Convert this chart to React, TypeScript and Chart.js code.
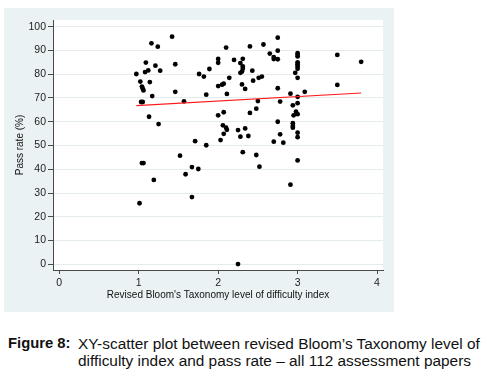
import React, { useEffect, useRef } from "react";
import { Chart, registerables } from "chart.js";
Chart.register(...registerables);

const xTicks = [0, 1, 2, 3, 4];
const yTicks = [0, 10, 20, 30, 40, 50, 60, 70, 80, 90, 100];

const bloomLevel = [
  0.97, 1.16, 1.24, 1.42, 1.09, 1.21, 1.08, 1.12, 1.27, 1.46,
  1.02, 1.14, 1.04, 1.05, 1.06, 1.17, 1.46, 1.03, 1.05, 1.57,
  1.13, 1.25, 1.52, 1.04, 1.06, 1.19, 1.01, 1.67, 1.59, 1.75,
  1.67, 1.71, 1.85, 1.76, 1.82, 1.89, 1.85, 2.0, 2.0, 2.1,
  2.2, 2.14, 2.0, 2.05, 2.07, 2.11, 2.0, 2.07, 2.06, 2.1,
  2.11, 2.07, 2.03, 2.25, 2.34, 2.28, 2.38, 2.31, 2.48, 2.52,
  2.25, 2.31, 2.28, 2.31, 2.31, 2.28, 2.3, 2.43, 2.51, 2.55,
  2.44, 2.3, 2.34, 2.4, 2.57, 2.65, 2.7, 2.7, 2.75, 2.75,
  2.75, 2.75, 2.78, 2.5, 2.48, 2.4, 2.75, 2.78, 2.7, 2.82,
  2.91, 3.09, 2.94, 2.95, 2.94, 2.94, 2.94, 3.0, 3.0, 2.98,
  3.0, 3.0, 3.0, 3.0, 2.91, 3.0, 3.0, 3.0, 3.0, 3.0,
  3.0, 3.0, 3.0, 2.97, 3.5, 3.5, 3.8,
];

const passRate = [
  80.1, 93.0, 91.6, 95.8, 84.9, 83.6, 80.9, 81.6, 81.5, 84.2,
  76.9, 76.7, 74.8, 74.0, 73.2, 70.8, 72.6, 68.3, 68.3, 68.6,
  62.1, 59.0, 45.7, 42.6, 42.6, 35.5, 25.7, 40.9, 37.9, 40.1,
  28.3, 51.8, 50.1, 80.1, 79.0, 82.2, 71.4, 86.4, 84.8, 91.2,
  86.0, 78.5, 75.0, 75.6, 76.0, 71.7, 62.7, 64.0, 58.5, 57.5,
  56.6, 54.9, 52.3, 56.5, 57.2, 53.7, 54.0, 47.2, 46.0, 41.1,
  0.1, 86.5, 84.7, 83.3, 82.3, 80.6, 81.1, 81.5, 78.5, 79.0,
  77.3, 75.7, 73.8, 91.7, 92.5, 88.7, 86.4, 87.2, 86.3, 89.9,
  95.4, 74.1, 68.5, 68.7, 65.5, 63.7, 60.0, 54.7, 51.6, 51.2,
  71.8, 72.6, 66.9, 62.7, 59.4, 58.2, 57.5, 70.5, 67.8, 64.2,
  63.2, 55.4, 53.5, 43.7, 33.5, 88.9, 88.2, 87.5, 85.0, 84.2,
  83.3, 82.3, 78.5, 80.6, 88.1, 75.5, 85.2,
];

const fitX = [0.97, 3.8];
const fitY = [66.8, 72.1];

const xTitle = "Revised Bloom's Taxonomy level of difficulty index";
const yTitle = "Pass rate (%)";
const captionLabel = "Figure 8:";
const captionLines = [
  "XY-scatter plot between revised Bloom\u2019s Taxonomy level of",
  "difficulty index and pass rate \u2013 all 112 assessment papers",
];

const PANEL = "#eaf2f3";
const AXIS = "#4a4a4a";
const FONT = "'Liberation Sans', Arial, sans-serif";

export default function App() {
  const ref = useRef<HTMLCanvasElement | null>(null);

  useEffect(() => {
    const canvas = ref.current;
    if (!canvas) return;
    const bgPlugin = {
      id: "bg",
      beforeDraw(chart: any) {
        const { ctx, chartArea } = chart;
        ctx.save();
        ctx.fillStyle = PANEL;
        ctx.fillRect(0, 0, chart.width, chart.height);
        ctx.fillStyle = "#ffffff";
        ctx.fillRect(
          chartArea.left,
          chartArea.top,
          chartArea.right - chartArea.left,
          chartArea.bottom - chartArea.top
        );
        ctx.restore();
      },
    };
    const chart = new Chart(canvas, {
      type: "scatter",
      data: {
        datasets: [
          {
            type: "line",
            data: fitX.map((x, i) => ({ x, y: fitY[i] })),
            borderColor: "#ff1a1a",
            borderWidth: 1.2,
            pointRadius: 0,
            fill: false,
            order: 0,
          } as any,
          {
            data: bloomLevel.map((x, i) => ({ x, y: passRate[i] })),
            backgroundColor: "#000000",
            borderWidth: 0,
            pointRadius: 2.4,
            order: 1,
          },
        ],
      },
      options: {
        responsive: false,
        animation: false,
        layout: { padding: { left: 0, right: 11, top: 12, bottom: 11 } },
        plugins: { legend: { display: false }, tooltip: { enabled: false } },
        scales: {
          x: {
            type: "linear",
            min: -0.079,
            max: 4.075,
            afterBuildTicks: (s: any) => {
              s.ticks = xTicks.map((v) => ({ value: v }));
            },
            afterFit: (s: any) => {
              s.height = 31;
            },
            grid: {
              drawOnChartArea: false,
              tickColor: AXIS,
              tickLength: 4,
            },
            border: { display: true, color: AXIS, width: 1 },
            ticks: {
              color: "#222",
              padding: 3,
              maxRotation: 0,
              font: { family: FONT, size: 10.5 },
            },
            title: {
              display: true,
              text: xTitle,
              color: "#111",
              font: { family: FONT, size: 10 },
              padding: { top: 0, bottom: 0 },
            },
          },
          y: {
            type: "linear",
            min: -2.4,
            max: 102.82,
            afterBuildTicks: (s: any) => {
              s.ticks = yTicks.map((v) => ({ value: v }));
            },
            afterFit: (s: any) => {
              s.width = 49;
            },
            grid: {
              color: "#e3ebed",
              tickColor: AXIS,
              tickLength: 5,
              lineWidth: 1,
            },
            border: { display: true, color: AXIS, width: 1 },
            ticks: {
              color: "#222",
              padding: 2,
              font: { family: FONT, size: 10.5 },
            },
            title: {
              display: true,
              text: yTitle,
              color: "#111",
              font: { family: FONT, size: 10 },
              padding: { top: 10, bottom: 0 },
            },
          },
        },
      },
      plugins: [bgPlugin],
    });
    return () => chart.destroy();
  }, []);

  return (
    <div
      style={{
        position: "absolute",
        left: 0,
        top: 0,
        width: 486,
        height: 373,
        background: "#fff",
        fontFamily: FONT,
      }}
    >
      <canvas
        ref={ref}
        width={390}
        height={304}
        style={{ position: "absolute", left: 4, top: 8, width: 390, height: 304 }}
      />
      <div
        style={{
          position: "absolute",
          left: 8,
          top: 335,
          fontSize: 14.8,
          lineHeight: "17px",
          fontWeight: "bold",
          color: "#111",
          whiteSpace: "nowrap",
        }}
      >
        {captionLabel}
      </div>
      {captionLines.map((t, i) => (
        <div
          key={i}
          style={{
            position: "absolute",
            left: 78,
            top: 335 + i * 17,
            fontSize: 15.4,
            lineHeight: "17px",
            color: "#111",
            whiteSpace: "nowrap",
          }}
        >
          {t}
        </div>
      ))}
    </div>
  );
}
